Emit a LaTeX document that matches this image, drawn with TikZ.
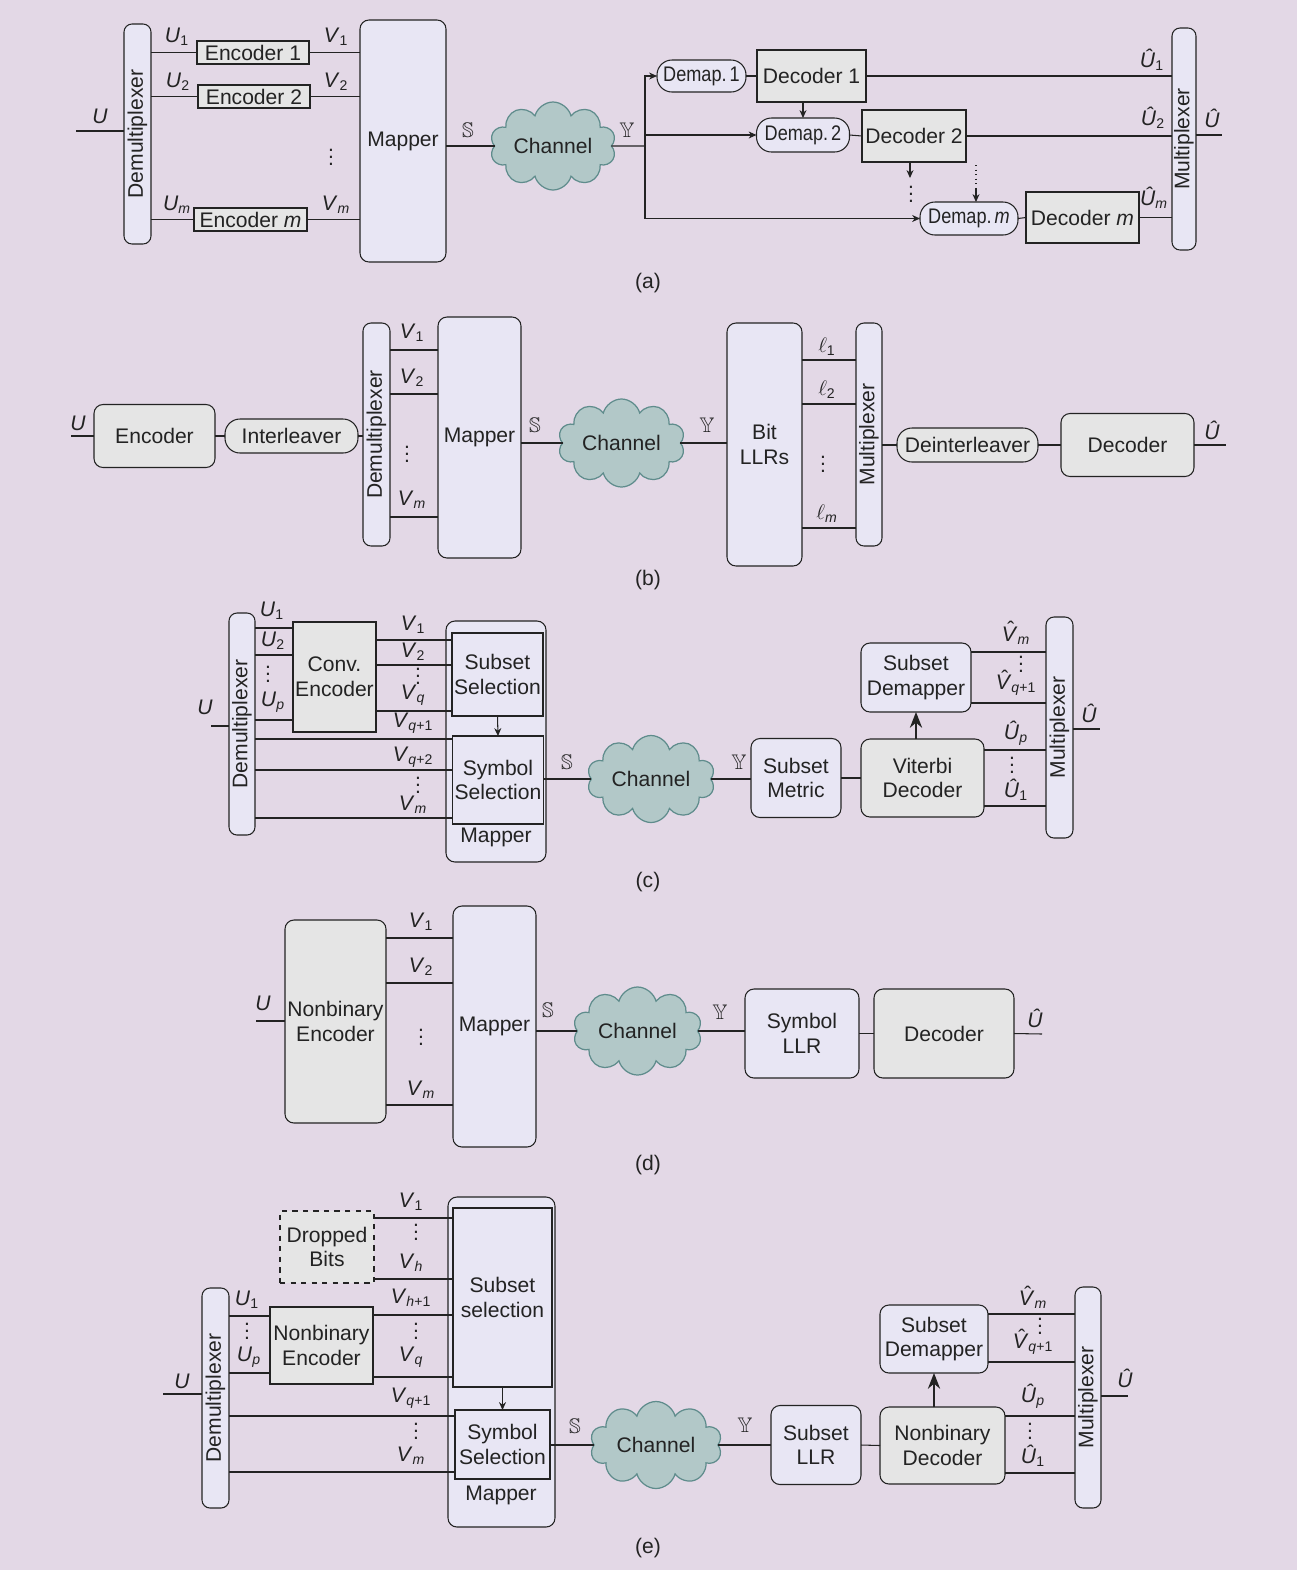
\documentclass[tikz,border=0pt]{standalone}
\usepackage{amssymb}
\usepackage{fontspec}
\setmainfont{Liberation Sans}
\usetikzlibrary{shapes.symbols,arrows.meta}

\definecolor{bgcol}{RGB}{227,216,230}
\definecolor{lavfill}{RGB}{232,230,244}
\definecolor{grayfill}{RGB}{229,229,229}
\definecolor{cloudfill}{RGB}{178,200,200}
\definecolor{cloudline}{RGB}{95,140,140}
\definecolor{inkcol}{RGB}{35,35,35}

\newcommand{\vsub}[2]{\textit{#1}\textsubscript{#2}}
\newcommand{\hvsub}[2]{\textit{\^{#1}}\textsubscript{#2}}
\newcommand{\hatV}{\leavevmode\setbox0\hbox{\textit{V}}\rlap{\hbox to \wd0{\hss\hspace{0.12em}\raisebox{0.2em}{\char"02C6}\hss}}\box0}
\newcommand{\hVsub}[1]{\hatV\textsubscript{#1}}
\newcommand{\dd}{\vbox{\baselineskip4pt\lineskiplimit0pt\hbox{.}\hbox{.}\hbox{.}}}
\newcommand{\demfont}[1]{\scalebox{0.86}[1]{#1}}

\tikzset{
  wh/.style 2 args={minimum width=#1*0.02cm, minimum height=#2*0.02cm},
  box/.style={draw=inkcol, line width=0.6pt, fill=lavfill, inner sep=1pt, outer sep=0pt,
    align=center, text=inkcol, font=\fontsize{12}{14}\selectfont},
  rbox/.style={box, rounded corners=0.18cm},
  gbox/.style={box, fill=grayfill},
  rgbox/.style={rbox, fill=grayfill},
  pill/.style={box, rounded corners=0.3cm},
  bar/.style={box, rounded corners=0.16cm},
  chan/.style={cloud, cloud puffs=10, cloud ignores aspect, draw=cloudline, fill=cloudfill,
    line width=0.7pt, inner sep=0pt, outer sep=0pt, text=inkcol, font=\fontsize{12}{14}\selectfont},
  lbl/.style={inner sep=0pt, text=inkcol, font=\fontsize{12}{14}\selectfont},
  wire/.style={draw=inkcol, line width=0.6pt},
  tip/.style={wire, -{Stealth[length=4.5pt,width=4pt]}},
  bigtip/.style={wire, line width=0.8pt, -{Stealth[length=9pt,width=7pt]}},
}

\begin{document}
\begin{tikzpicture}[x=0.02cm, y=-0.02cm]
  \fill[bgcol] (0,0) rectangle (1297,1570);

  % (a)
  \node[bar, wh={27}{220}] (dmA) at (137.5,134) {\rotatebox{90}{Demultiplexer}};
  \node[gbox, wh={112}{23}] (encA1) at (253,52.5) {Encoder 1};
  \node[gbox, wh={112}{23}] (encA2) at (254,96.5) {Encoder 2};
  \node[gbox, wh={113}{23}] (encAm) at (250.5,219.5) {Encoder \textit{m}};
  \node[rbox, wh={86}{242}] (mapA) at (403,141) {Mapper};
  \node[chan, wh={126}{88}] (chA) at (553,146) {Channel};
  \coordinate (inA) at (76,131);
  \coordinate (brA) at (645,146);
  \node[pill, wh={89}{32}] (dpA1) at (701.5,76) {\demfont{Demap.\,1}};
  \node[gbox, wh={109}{52}] (decA1) at (811.5,76) {Decoder 1};
  \node[pill, wh={93}{34}] (dpA2) at (803,135) {\demfont{Demap.\,2}};
  \node[gbox, wh={104}{52}] (decA2) at (914,136) {Decoder 2};
  \node[pill, wh={98}{33}] (dpAm) at (969,218.5) {\demfont{Demap.\,\textit{m}}};
  \node[gbox, wh={113}{51}] (decAm) at (1082.5,217.5) {Decoder \textit{m}};
  \node[bar, wh={24}{222}] (mxA) at (1184,139) {\rotatebox{90}{Multiplexer}};
  \coordinate (outA) at (1222,135);
  \coordinate (d2A) at (910,178);
  \coordinate (dmtA) at (976,165);

  \draw[wire] (inA) -- (inA -| dmA.west);
  \draw[wire] (dmA.east |- encA1.west) -- (encA1.west);
  \draw[wire] (dmA.east |- encA2.west) -- (encA2.west);
  \draw[wire] (dmA.east |- encAm.west) -- (encAm.west);
  \draw[wire] (encA1.east) -- (encA1.east -| mapA.west);
  \draw[wire] (encA2.east) -- (encA2.east -| mapA.west);
  \draw[wire] (encAm.east) -- (encAm.east -| mapA.west);
  \draw[wire] (mapA.east |- chA.west) -- (chA.west);
  \draw[wire] (chA.east) -- (brA);
  \draw[tip] (brA) |- (dpA1.west);
  \draw[tip] (brA |- dpA2.west) -- (dpA2.west);
  \draw[wire] (brA |- dpA1.west) -- (brA |- dpAm.west);
  \draw[tip] (brA |- dpAm.west) -- (dpAm.west);
  \draw[wire] (dpA1.east) -- (decA1.west);
  \draw[wire] (dpA2.east) -- (decA2.west);
  \draw[wire] (dpAm.east) -- (decAm.west);
  \draw[tip] (decA1.south -| dpA2.north) -- (dpA2.north);
  \draw[tip] (decA2.south -| d2A) -- (d2A);
  \draw[wire, dotted, line width=1pt] (dmtA) -- ++(0,24);
  \draw[tip] (dmtA) ++(0,24) -- (dmtA |- dpAm.north);
  \draw[wire] (decA1.east) -- (decA1.east -| mxA.west);
  \draw[wire] (decA2.east) -- (decA2.east -| mxA.west);
  \draw[wire] (decAm.east) -- (decAm.east -| mxA.west);
  \draw[wire] (mxA.east |- outA) -- (outA);

  \node[lbl] (lUa) at (100,116) {\textit{U}};
  \node[lbl] (lU1a) at (177,37) {\vsub{U}{1}};
  \node[lbl] (lV1a) at (336,37) {\vsub{V}{1}};
  \node[lbl] (lU2a) at (178,82) {\vsub{U}{2}};
  \node[lbl] (lV2a) at (336,82) {\vsub{V}{2}};
  \node[lbl] (ldta) at (331,157) {\dd};
  \node[lbl] (lUma) at (177,205) {\vsub{U}{\textit{m}}};
  \node[lbl] (lVma) at (336,205) {\vsub{V}{\textit{m}}};
  \node[lbl] (lSa) at (468,130) {$\mathbb{S}$};
  \node[lbl] (lYa) at (627,130) {$\mathbb{Y}$};
  \node[lbl] (ldda) at (911,194) {\dd};
  \node[lbl] (lH1a) at (1152,60) {\hvsub{U}{1}};
  \node[lbl] (lH2a) at (1153,118) {\hvsub{U}{2}};
  \node[lbl] (lHma) at (1154,198) {\hvsub{U}{\textit{m}}};
  \node[lbl] (lHa) at (1212,118) {\textit{\^{U}}};
  \node[lbl] (capA) at (648,283) {(a)};

  % (b)
  \coordinate (inB) at (71,436);
  \node[rgbox, wh={121}{63}] (encB) at (154.5,436) {Encoder};
  \node[pill, fill=grayfill, wh={133}{34}] (ilB) at (291.5,436) {Interleaver};
  \node[bar, wh={27}{223}] (dmB) at (376.5,434.5) {\rotatebox{90}{Demultiplexer}};
  \node[rbox, wh={83}{241}] (mapB) at (479.5,437.5) {Mapper};
  \node[chan, wh={127}{88}] (chB) at (621.5,443) {Channel};
  \node[rbox, wh={75}{243}] (llrB) at (764.5,444.5) {Bit\\LLRs};
  \node[bar, wh={26}{223}] (mxB) at (869,434.5) {\rotatebox{90}{Multiplexer}};
  \node[pill, fill=grayfill, wh={141}{34}] (dilB) at (967.5,445) {Deinterleaver};
  \node[rgbox, wh={133}{63}] (decB) at (1127.5,445) {Decoder};
  \coordinate (outB) at (1226,445);

  \draw[wire] (inB) -- (encB.west);
  \draw[wire] (encB.east) -- (ilB.west);
  \draw[wire] (ilB.east) -- (ilB.east -| dmB.west);
  \draw[wire] (dmB.east |- 0,350) -- (mapB.west |- 0,350);
  \draw[wire] (dmB.east |- 0,394) -- (mapB.west |- 0,394);
  \draw[wire] (dmB.east |- 0,517) -- (mapB.west |- 0,517);
  \draw[wire] (mapB.east |- chB.west) -- (chB.west);
  \draw[wire] (chB.east) -- (chB.east -| llrB.west);
  \draw[wire] (llrB.east |- 0,360) -- (mxB.west |- 0,360);
  \draw[wire] (llrB.east |- 0,404) -- (mxB.west |- 0,404);
  \draw[wire] (llrB.east |- 0,528) -- (mxB.west |- 0,528);
  \draw[wire] (mxB.east |- dilB.west) -- (dilB.west);
  \draw[wire] (dilB.east) -- (decB.west);
  \draw[wire] (decB.east) -- (outB);

  \node[lbl] (lUb) at (78,423) {\textit{U}};
  \node[lbl] (lV1b) at (412,333) {\vsub{V}{1}};
  \node[lbl] (lV2b) at (412,378) {\vsub{V}{2}};
  \node[lbl] (ldtb) at (407,454) {\dd};
  \node[lbl] (lVmb) at (412,500) {\vsub{V}{\textit{m}}};
  \node[lbl] (lSb) at (535,425) {$\mathbb{S}$};
  \node[lbl] (lYb) at (707,425) {$\mathbb{Y}$};
  \node[lbl] (ll1b) at (827,347) {$\ell$\textsubscript{1}};
  \node[lbl] (ll2b) at (827,390) {$\ell$\textsubscript{2}};
  \node[lbl] (ldlb) at (823,464) {\dd};
  \node[lbl] (llmb) at (827,514) {$\ell$\textsubscript{\textit{m}}};
  \node[lbl] (lHb) at (1212,430) {\textit{\^{U}}};
  \node[lbl] (capB) at (648,580) {(b)};

  % (c)
  \coordinate (inC) at (211,726);
  \node[bar, wh={26}{222}] (dmC) at (242,724) {\rotatebox{90}{Demultiplexer}};
  \node[gbox, wh={83}{110}] (ceC) at (334.5,677) {Conv.\\Encoder};
  \node[rbox, wh={100}{241}] (mpC) at (496,741.5) {};
  \node[box, wh={91}{83}] (ssC) at (497.5,674.5) {Subset\\Selection};
  \node[box, wh={86}{88}] (syC) at (498,780) {Symbol\\Selection};
  \node[lbl] (lmpC) at (496,837) {Mapper};
  \node[chan, wh={128}{87}] (chC) at (651,779) {Channel};
  \node[rbox, wh={90}{79}] (smC) at (796,778) {Subset\\Metric};
  \node[rgbox, wh={123}{78}] (vdC) at (922.5,778) {Viterbi\\Decoder};
  \node[rbox, wh={110}{69}] (sdC) at (916,677.5) {Subset\\Demapper};
  \node[bar, wh={27}{221}] (mxC) at (1059.5,727.5) {\rotatebox{90}{Multiplexer}};
  \coordinate (outC) at (1100,729);

  \draw[wire] (inC) -- (inC -| dmC.west);
  \draw[wire] (dmC.east |- 0,628) -- (ceC.west |- 0,628);
  \draw[wire] (dmC.east |- 0,655) -- (ceC.west |- 0,655);
  \draw[wire] (dmC.east |- 0,720) -- (ceC.west |- 0,720);
  \draw[wire] (ceC.east |- 0,640) -- (ssC.west |- 0,640);
  \draw[wire] (ceC.east |- 0,665) -- (ssC.west |- 0,665);
  \draw[wire] (ceC.east |- 0,711) -- (ssC.west |- 0,711);
  \draw[wire] (dmC.east |- 0,739) -- (syC.west |- 0,739);
  \draw[wire] (dmC.east |- 0,770) -- (syC.west |- 0,770);
  \draw[wire] (dmC.east |- 0,818) -- (syC.west |- 0,818);
  \draw[tip] (ssC.south) -- (syC.north);
  \draw[wire] (syC.east |- chC.west) -- (chC.west);
  \draw[wire] (chC.east) -- (chC.east -| smC.west);
  \draw[wire] (smC.east) -- (vdC.west);
  \draw[bigtip] (vdC.north -| sdC.south) -- (sdC.south);
  \draw[wire] (sdC.east |- 0,652) -- (mxC.west |- 0,652);
  \draw[wire] (sdC.east |- 0,703) -- (mxC.west |- 0,703);
  \draw[wire] (vdC.east |- 0,750) -- (mxC.west |- 0,750);
  \draw[wire] (vdC.east |- 0,806) -- (mxC.west |- 0,806);
  \draw[wire] (mxC.east |- outC) -- (outC);

  \node[lbl] (lUc) at (205,707) {\textit{U}};
  \node[lbl] (lU1c) at (272,611) {\vsub{U}{1}};
  \node[lbl] (lU2c) at (273,641) {\vsub{U}{2}};
  \node[lbl] (ldUc) at (268,674) {\dd};
  \node[lbl] (lUpc) at (273,702) {\vsub{U}{\textit{p}}};
  \node[lbl] (lV1c) at (413,625) {\vsub{V}{1}};
  \node[lbl] (lV2c) at (413,652) {\vsub{V}{2}};
  \node[lbl] (ldVc) at (418,676) {\dd};
  \node[lbl] (lVqc) at (413,695) {\vsub{V}{\textit{q}}};
  \node[lbl] (lVq1c) at (413,723) {\vsub{V}{\textit{q}+1}};
  \node[lbl] (lVq2c) at (413,757) {\vsub{V}{\textit{q}+2}};
  \node[lbl] (ldWc) at (418,785) {\dd};
  \node[lbl] (lVmc) at (413,805) {\vsub{V}{\textit{m}}};
  \node[lbl] (lSc) at (567,762) {$\mathbb{S}$};
  \node[lbl] (lYc) at (739,762) {$\mathbb{Y}$};
  \node[lbl] (lHVmc) at (1016,633) {\hVsub{\textit{m}}};
  \node[lbl] (ldHc) at (1021,664) {\dd};
  \node[lbl] (lHVqc) at (1016,683) {\hVsub{\textit{q}+1}};
  \node[lbl] (lHUpc) at (1016,733) {\hvsub{U}{\textit{p}}};
  \node[lbl] (ldKc) at (1012,765) {\dd};
  \node[lbl] (lHU1c) at (1016,790) {\hvsub{U}{1}};
  \node[lbl] (lHc) at (1089,713) {\textit{\^{U}}};
  \node[lbl] (capC) at (648,882) {(c)};

  % (d)
  \coordinate (inD) at (256,1021);
  \node[rgbox, wh={101}{203}] (neD) at (335.5,1021.5) {Nonbinary\\Encoder};
  \node[rbox, wh={83}{241}] (mapD) at (494.5,1026.5) {Mapper};
  \node[chan, wh={129}{88}] (chD) at (637.5,1031) {Channel};
  \node[rbox, wh={114}{89}] (slD) at (802,1033.5) {Symbol\\LLR};
  \node[rgbox, wh={140}{89}] (decD) at (944,1033.5) {Decoder};
  \coordinate (outD) at (1042,1034);

  \draw[wire] (inD) -- (inD -| neD.west);
  \draw[wire] (neD.east |- 0,938) -- (mapD.west |- 0,938);
  \draw[wire] (neD.east |- 0,983) -- (mapD.west |- 0,983);
  \draw[wire] (neD.east |- 0,1105) -- (mapD.west |- 0,1105);
  \draw[wire] (mapD.east |- chD.west) -- (chD.west);
  \draw[wire] (chD.east) -- (chD.east -| slD.west);
  \draw[wire] (slD.east) -- (decD.west);
  \draw[wire] (decD.east) -- (outD);

  \node[lbl] (lUd) at (263,1003) {\textit{U}};
  \node[lbl] (lV1d) at (421,922) {\vsub{V}{1}};
  \node[lbl] (lV2d) at (421,967) {\vsub{V}{2}};
  \node[lbl] (ldVd) at (421,1037) {\dd};
  \node[lbl] (lVmd) at (421,1090) {\vsub{V}{\textit{m}}};
  \node[lbl] (lSd) at (548,1010) {$\mathbb{S}$};
  \node[lbl] (lYd) at (720,1012) {$\mathbb{Y}$};
  \node[lbl] (lHd) at (1035,1018) {\textit{\^{U}}};
  \node[lbl] (capD) at (648,1165) {(d)};

  % (e)
  \coordinate (inE) at (163,1394);
  \node[gbox, dashed, wh={94}{72}] (dbE) at (327,1247) {Dropped\\Bits};
  \node[bar, wh={27}{220}] (dmE) at (215.5,1398) {\rotatebox{90}{Demultiplexer}};
  \node[gbox, wh={103}{77}] (neE) at (321.5,1345.5) {Nonbinary\\Encoder};
  \node[rbox, wh={107}{330}] (mpE) at (501.5,1362) {};
  \node[box, wh={99}{179}] (ssE) at (502.5,1297.5) {Subset\\selection};
  \node[box, wh={95}{69}] (syE) at (502.5,1444.5) {Symbol\\Selection};
  \node[lbl] (lmpE) at (501,1495) {Mapper};
  \node[chan, wh={132}{87}] (chE) at (656,1445) {Channel};
  \node[rbox, wh={90}{79}] (slE) at (816,1445) {Subset\\LLR};
  \node[rgbox, wh={125}{77}] (ndE) at (942.5,1445.5) {Nonbinary\\Decoder};
  \node[rbox, wh={108}{68}] (sdE) at (934,1339) {Subset\\Demapper};
  \node[bar, wh={26}{221}] (mxE) at (1088,1397.5) {\rotatebox{90}{Multiplexer}};
  \coordinate (outE) at (1128,1396);

  \draw[wire] (dbE.east |- 0,1218) -- (ssE.west |- 0,1218);
  \draw[wire] (dbE.east |- 0,1279) -- (ssE.west |- 0,1279);
  \draw[wire] (inE) -- (inE -| dmE.west);
  \draw[wire] (dmE.east |- 0,1316) -- (neE.west |- 0,1316);
  \draw[wire] (dmE.east |- 0,1373) -- (neE.west |- 0,1373);
  \draw[wire] (neE.east |- 0,1315) -- (ssE.west |- 0,1315);
  \draw[wire] (neE.east |- 0,1377) -- (ssE.west |- 0,1377);
  \draw[wire] (dmE.east |- 0,1416) -- (syE.west |- 0,1416);
  \draw[wire] (dmE.east |- 0,1472) -- (syE.west |- 0,1472);
  \draw[tip] (ssE.south) -- (syE.north);
  \draw[wire] (syE.east |- chE.west) -- (chE.west);
  \draw[wire] (chE.east) -- (chE.east -| slE.west);
  \draw[wire] (slE.east) -- (ndE.west);
  \draw[bigtip] (ndE.north -| sdE.south) -- (sdE.south);
  \draw[wire] (sdE.east |- 0,1314) -- (mxE.west |- 0,1314);
  \draw[wire] (sdE.east |- 0,1362) -- (mxE.west |- 0,1362);
  \draw[wire] (ndE.east |- 0,1416) -- (mxE.west |- 0,1416);
  \draw[wire] (ndE.east |- 0,1473) -- (mxE.west |- 0,1473);
  \draw[wire] (mxE.east |- outE) -- (outE);

  \node[lbl] (lV1e) at (411,1202) {\vsub{V}{1}};
  \node[lbl] (ldAe) at (416,1232) {\dd};
  \node[lbl] (lVhe) at (411,1263) {\vsub{V}{\textit{h}}};
  \node[lbl] (lUe) at (182,1381) {\textit{U}};
  \node[lbl] (lU1e) at (247,1300) {\vsub{U}{1}};
  \node[lbl] (ldBe) at (247,1331) {\dd};
  \node[lbl] (lUpe) at (249,1357) {\vsub{U}{\textit{p}}};
  \node[lbl] (lVh1e) at (411,1298) {\vsub{V}{\textit{h}+1}};
  \node[lbl] (ldCe) at (416,1331) {\dd};
  \node[lbl] (lVqe) at (411,1357) {\vsub{V}{\textit{q}}};
  \node[lbl] (lVq1e) at (411,1398) {\vsub{V}{\textit{q}+1}};
  \node[lbl] (ldDe) at (416,1431) {\dd};
  \node[lbl] (lVme) at (411,1456) {\vsub{V}{\textit{m}}};
  \node[lbl] (lSe) at (575,1426) {$\mathbb{S}$};
  \node[lbl] (lYe) at (745,1425) {$\mathbb{Y}$};
  \node[lbl] (lHVme) at (1033,1297) {\hVsub{\textit{m}}};
  \node[lbl] (ldEe) at (1040,1326) {\dd};
  \node[lbl] (lHVqe) at (1033,1342) {\hVsub{\textit{q}+1}};
  \node[lbl] (lHUpe) at (1033,1396) {\hvsub{U}{\textit{p}}};
  \node[lbl] (ldFe) at (1030,1431) {\dd};
  \node[lbl] (lHU1e) at (1033,1456) {\hvsub{U}{1}};
  \node[lbl] (lHe) at (1125,1378) {\textit{\^{U}}};
  \node[lbl] (capE) at (648,1548) {(e)};
\end{tikzpicture}
\end{document}
